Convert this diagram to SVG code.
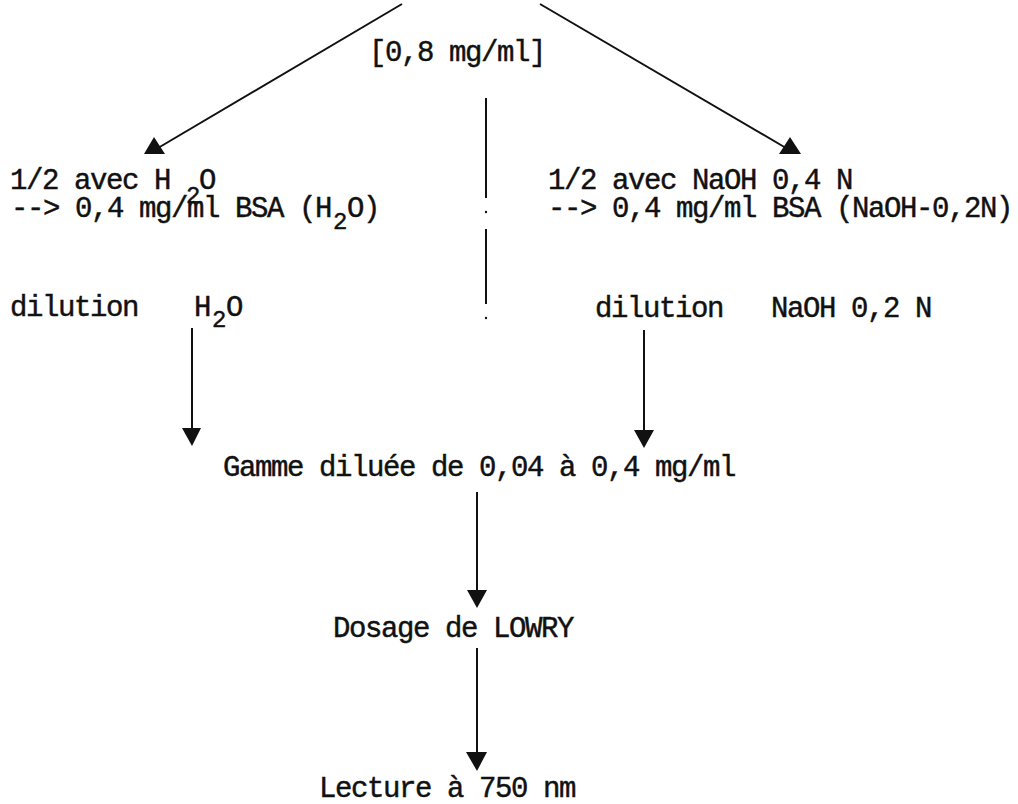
<svg xmlns="http://www.w3.org/2000/svg" width="1018" height="804" viewBox="0 0 1018 804">
<style>
.t{font-family:"Liberation Mono","DejaVu Sans Mono",monospace;font-size:29px;letter-spacing:-1.4px;fill:#111;stroke:#111;stroke-width:0.45px}
.s{font-size:24px;letter-spacing:0}
.ln{stroke:#111;stroke-width:2;fill:none}
.ah{fill:#111}
</style>
<rect width="1018" height="804" fill="#fff"/>
<g id="connectors">
  <line class="ln" x1="402" y1="4" x2="158" y2="148"/>
  <polygon class="ah" points="154,137 144,154 165,154"/>
  <line class="ln" x1="540" y1="4" x2="786" y2="148"/>
  <polygon class="ah" points="790,137 779,154 801,154"/>
  <line class="ln" x1="486" y1="98" x2="486" y2="198"/>
  <circle class="ah" cx="486" cy="212" r="1.2"/>
  <line class="ln" x1="486" y1="229" x2="486" y2="304"/>
  <circle class="ah" cx="486" cy="318" r="1.2"/>
  <line class="ln" x1="192" y1="328" x2="192" y2="430"/>
  <polygon class="ah" points="182,428 201,428 192,446"/>
  <line class="ln" x1="644" y1="330" x2="644" y2="432"/>
  <polygon class="ah" points="634,430 654,430 644,448"/>
  <line class="ln" x1="477" y1="492" x2="477" y2="592"/>
  <polygon class="ah" points="467,590 487,590 477,608"/>
  <line class="ln" x1="477" y1="648" x2="477" y2="754"/>
  <polygon class="ah" points="466,752 487,752 477,771"/>
</g>
<g id="n-source"><text class="t" x="369" y="61">[0,8 mg/ml]</text></g>
<g id="n-h2o">
  <text class="t" x="10" y="189">1/2 avec H</text>
  <text class="t s" x="186" y="203">2</text>
  <text class="t" x="199" y="189">O</text>
  <text class="t" x="11" y="217">--&gt; 0,4 mg/ml BSA (H</text>
  <text class="t s" x="333" y="229">2</text>
  <text class="t" x="347" y="217">O)</text>
</g>
<g id="n-naoh">
  <text class="t" x="548" y="189">1/2 avec NaOH 0,4 N</text>
  <text class="t" x="548" y="217">--&gt; 0,4 mg/ml BSA (NaOH-0,2N)</text>
</g>
<g id="n-dil-h2o">
  <text class="t" x="10" y="316">dilution</text>
  <text class="t" x="194" y="316">H</text>
  <text class="t s" x="212" y="327">2</text>
  <text class="t" x="226" y="316">O</text>
</g>
<g id="n-dil-naoh">
  <text class="t" x="595" y="317">dilution</text>
  <text class="t" x="771" y="317">NaOH 0,2 N</text>
</g>
<g id="n-gamme"><text class="t" x="223" y="476">Gamme diluée de 0,04 à 0,4 mg/ml</text></g>
<g id="n-lowry"><text class="t" x="333" y="637">Dosage de LOWRY</text></g>
<g id="n-lecture"><text class="t" x="319" y="797">Lecture à 750 nm</text></g>
</svg>
